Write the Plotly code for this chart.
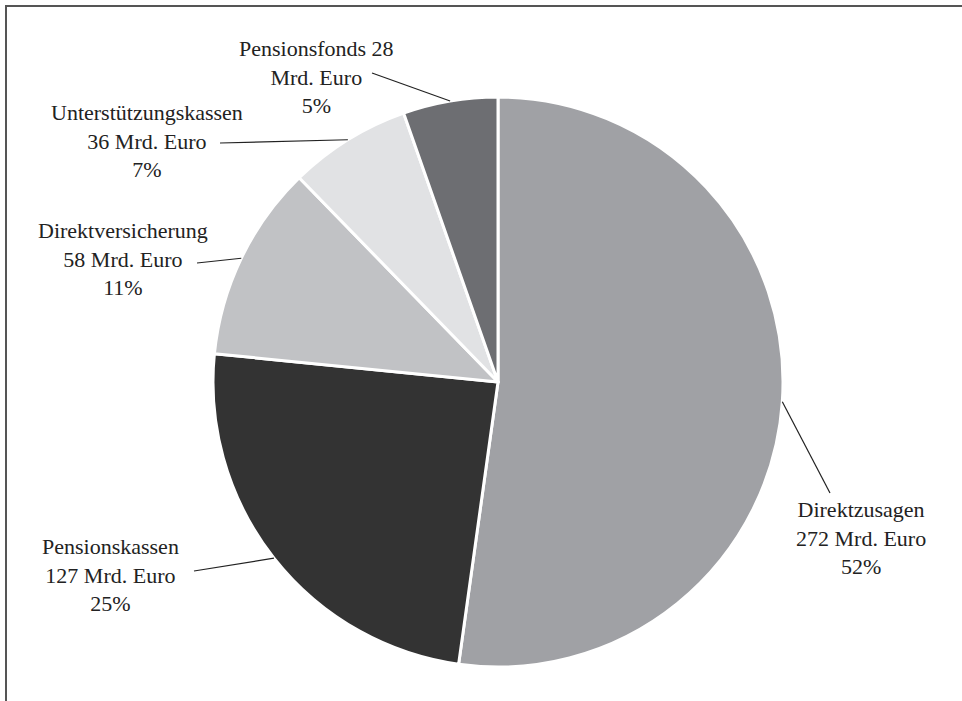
import math
import plotly.graph_objects as go

# ---- data ----
categories = ["Direktzusagen", "Pensionskassen", "Direktversicherung",
              "Unterstützungskassen", "Pensionsfonds"]
values_mrd = [272, 127, 58, 36, 28]
percent_labels = ["52%", "25%", "11%", "7%", "5%"]
colors = ["#a0a1a5", "#333333", "#c1c2c5", "#e1e2e4", "#6d6e72"]

# label text layout (line breaks) per category
label_texts = [
    f"{categories[0]}<br>{values_mrd[0]} Mrd. Euro<br>{percent_labels[0]}",
    f"{categories[1]}<br>{values_mrd[1]} Mrd. Euro<br>{percent_labels[1]}",
    f"{categories[2]}<br>{values_mrd[2]} Mrd. Euro<br>{percent_labels[2]}",
    f"{categories[3]}<br>{values_mrd[3]} Mrd. Euro<br>{percent_labels[3]}",
    f"{categories[4]} {values_mrd[4]}<br>Mrd. Euro<br>{percent_labels[4]}",
]

# ---- style / layout (pixels) ----
W, H = 962, 701
CX, CY, R = 498, 382, 285
label_pos = [(861, 538), (110, 575), (123, 259), (147, 141), (316, 77)]
leader_start = [(830, 493), (194, 571), (197, 263), (220, 143), (372, 73)]

def px(x):
    return x / W

def py(y):
    return 1 - y / H

fig = go.Figure(go.Pie(
    labels=categories,
    values=values_mrd,
    sort=False,
    direction="clockwise",
    rotation=0,
    textinfo="none",
    hoverinfo="label+value+percent",
    marker=dict(colors=colors, line=dict(color="white", width=3)),
    domain=dict(x=[px(CX - R), px(CX + R)], y=[py(CY + R), py(CY - R)]),
    showlegend=False,
))

shapes = []
annotations = []
total = sum(values_mrd)
cum = 0
for i, v in enumerate(values_mrd):
    mid = (cum + v / 2) / total * 2 * math.pi
    cum += v
    ax = CX + R * math.sin(mid)
    ay = CY - R * math.cos(mid)
    sx, sy = leader_start[i]
    shapes.append(dict(type="line", xref="paper", yref="paper",
                       x0=px(sx), y0=py(sy), x1=px(ax), y1=py(ay),
                       line=dict(color="#222222", width=1.2)))
    lx, ly = label_pos[i]
    annotations.append(dict(text=label_texts[i], xref="paper", yref="paper",
                            x=px(lx), y=py(ly), xanchor="center", yanchor="middle",
                            align="center", showarrow=False,
                            font=dict(family="Liberation Serif",
                                      size=22, color="#222222")))

# frame (top and left edges visible, extends beyond right/bottom)
shapes.append(dict(type="rect", xref="paper", yref="paper",
                   x0=px(6), y0=py(H + 10), x1=px(W + 10), y1=py(6),
                   line=dict(color="#555555", width=2), fillcolor="rgba(0,0,0,0)",
                   layer="below"))

fig.update_layout(
    width=W, height=H,
    margin=dict(l=0, r=0, t=0, b=0),
    paper_bgcolor="white",
    plot_bgcolor="white",
    shapes=shapes,
    annotations=annotations,
)

fig.write_html("out.html")
